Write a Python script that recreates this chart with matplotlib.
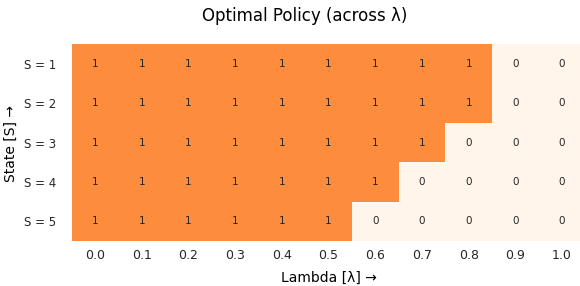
import numpy as np
import matplotlib
matplotlib.use("Agg")
import matplotlib.pyplot as plt
from matplotlib.colors import ListedColormap

lambdas = [0.0, 0.1, 0.2, 0.3, 0.4, 0.5, 0.6, 0.7, 0.8, 0.9, 1.0]
states = ["S = 1", "S = 2", "S = 3", "S = 4", "S = 5"]
policy = [
    [1, 1, 1, 1, 1, 1, 1, 1, 1, 0, 0],
    [1, 1, 1, 1, 1, 1, 1, 1, 1, 0, 0],
    [1, 1, 1, 1, 1, 1, 1, 1, 0, 0, 0],
    [1, 1, 1, 1, 1, 1, 1, 0, 0, 0, 0],
    [1, 1, 1, 1, 1, 1, 0, 0, 0, 0, 0],
]

P = np.array(policy)
cmap = ListedColormap(["#fff5eb", "#fd8c3c"])

fig = plt.figure(figsize=(5.8, 2.86), dpi=100)
# heatmap runs slightly past the right edge of the figure, as in the original
ax = fig.add_axes([0.1234, 0.157, 0.886, 0.689])
ax.pcolormesh(P, cmap=cmap, vmin=0, vmax=1)
ax.set_xlim(0, len(lambdas))
ax.set_ylim(len(states), 0)

for i in range(P.shape[0]):
    for j in range(P.shape[1]):
        ax.text(j + 0.5, i + 0.5, str(P[i, j]), ha="center", va="center",
                fontsize=7.5, color="#262626")

ax.set_xticks(np.arange(len(lambdas)) + 0.5)
ax.set_xticklabels([f"{l:.1f}" for l in lambdas], fontsize=9, color="#262626")
ax.set_yticks(np.arange(len(states)) + 0.5)
ax.set_yticklabels(states, fontsize=8.5, rotation=0, color="#262626")
ax.tick_params(axis="x", length=0, pad=6)
ax.tick_params(axis="y", length=0, pad=11)
for s in ax.spines.values():
    s.set_visible(False)

ax.set_xlabel("Lambda [λ] →", fontsize=10, labelpad=6)
fig.text(0.019, 0.5, "State [S] →", fontsize=10, rotation=90,
         ha="center", va="center")
fig.text(0.526, 0.945, "Optimal Policy (across λ)", fontsize=12,
         ha="center", va="center")

fig.savefig("out.png", dpi=100)
